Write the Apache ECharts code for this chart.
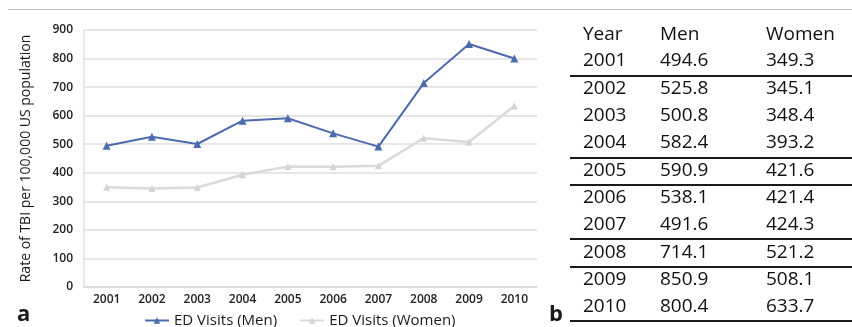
<!DOCTYPE html>
<html>
<head>
<meta charset="utf-8">
<script src="https://cdn.jsdelivr.net/npm/echarts@6/dist/echarts.min.js"></script>
<style>
html,body{margin:0;padding:0;background:#fff;}
#c{width:852px;height:327px;}
</style>
</head>
<body>
<div id="c"></div>
<script>
const years = ['2001','2002','2003','2004','2005','2006','2007','2008','2009','2010'];
const menValues = [494.6, 525.8, 500.8, 582.4, 590.9, 538.1, 491.6, 714.1, 850.9, 800.4];
const womenValues = [349.3, 345.1, 348.4, 393.2, 421.6, 421.4, 424.3, 521.2, 508.1, 633.7];
const tableHeader = ['Year', 'Men', 'Women'];
const seriesNames = ['ED Visits (Men)', 'ED Visits (Women)'];
const yAxisTitle = 'Rate of TBI per 100,000 US population';
// rows after which a rule is drawn in the table
const ruleAfterRows = [0, 3, 4, 6, 7, 9];

const chart = echarts.init(document.getElementById('c'));
const FONT = '"Open Sans", "Noto Sans", sans-serif';

const graphics = [];
// top separator
graphics.push({type:'line', shape:{x1:8, y1:9.5, x2:852, y2:9.5}, style:{stroke:'#c4c4c4', lineWidth:1}});
// panel labels
graphics.push({type:'text', left:17, top:304, style:{text:'a', font:'bold 22px ' + FONT, fill:'#1a1a1a'}});
graphics.push({type:'text', left:549, top:304, style:{text:'b', font:'bold 22px ' + FONT, fill:'#1a1a1a'}});

// table
const colX = [583, 660, 766];
const headerY = 35;
const row0Y = 61;
const rowH = 27.3;
const tfont = '500 19px ' + FONT;
tableHeader.forEach((h, j) => {
  graphics.push({type:'text', x:colX[j], y:headerY, style:{text:h, font:tfont, fill:'#111', textVerticalAlign:'middle'}});
});
years.forEach((yr, i) => {
  const y = row0Y + i * rowH;
  const vals = [yr, menValues[i].toFixed(1), womenValues[i].toFixed(1)];
  vals.forEach((v, j) => {
    graphics.push({type:'text', x:colX[j], y:y, style:{text:v, font:tfont, fill:'#111', textVerticalAlign:'middle'}});
  });
});
ruleAfterRows.forEach(r => {
  const y = Math.round(row0Y + r * rowH + rowH / 2) + 1;
  graphics.push({type:'line', shape:{x1:570, y1:y, x2:852, y2:y}, style:{stroke:'#1a1a1a', lineWidth:2}});
});

chart.setOption({
  animation: false,
  textStyle: {fontFamily: FONT},
  grid: {left: 84, right: 315, top: 30, bottom: 40, containLabel: false},
  legend: {
    left: 139, top: 308,
    itemWidth: 24, itemHeight: 8, itemGap: 22,
    textStyle: {fontFamily: FONT, fontSize: 15, color: '#1a1a1a'},
    data: seriesNames
  },
  xAxis: {
    type: 'category',
    data: years,
    boundaryGap: true,
    axisTick: {show: false},
    axisLine: {lineStyle: {color: '#d8d8d8', width: 1.5}},
    axisLabel: {color: '#222', fontSize: 12, fontWeight: 600, margin: 7, fontFamily: FONT}
  },
  yAxis: {
    type: 'value',
    min: 0, max: 900, interval: 100,
    name: yAxisTitle,
    nameLocation: 'middle',
    nameGap: 51,
    nameTextStyle: {fontSize: 14, color: '#1a1a1a', fontFamily: FONT},
    axisLine: {show: true, lineStyle: {color: '#e0e0e0', width: 1.5}},
    axisTick: {show: false},
    axisLabel: {color: '#222', fontSize: 12, fontWeight: 600, margin: 11, fontFamily: FONT},
    splitLine: {lineStyle: {color: '#dedede', width: 1.5}}
  },
  series: [
    {
      name: seriesNames[0], type: 'line', data: menValues,
      symbol: 'triangle', symbolSize: 8,
      lineStyle: {color: '#4e6aae', width: 2},
      itemStyle: {color: '#4e6aae'}
    },
    {
      name: seriesNames[1], type: 'line', data: womenValues,
      symbol: 'triangle', symbolSize: 7,
      lineStyle: {color: '#dadada', width: 2.5},
      itemStyle: {color: '#d4d4d4'}
    }
  ],
  graphic: graphics
});
</script>
</body>
</html>
